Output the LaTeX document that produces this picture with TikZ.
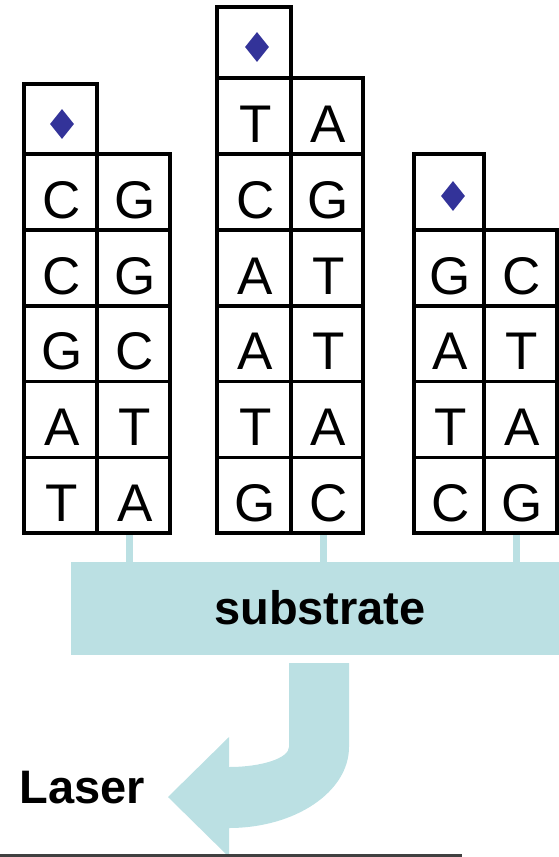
\documentclass[tikz,border=0pt]{standalone}
\usepackage{fontspec}
\setmainfont{Liberation Sans}
\usetikzlibrary{shapes.geometric,backgrounds}
\definecolor{lblue}{RGB}{187,224,227}
\definecolor{dblue}{RGB}{51,51,153}
\tikzset{
  cellbox/.style={draw=black, line width=3.5pt, inner sep=0pt, text height=52pt, text depth=0pt,
    font=\fontsize{53}{53}\selectfont},
  gem/.style={diamond, fill=dblue, inner sep=0pt, minimum width=24pt, minimum height=30pt},
  stub/.style={draw=lblue, line width=7pt},
  band/.style={fill=lblue, inner sep=0pt},
  bigbold/.style={inner sep=0pt, font=\fontsize{47}{47}\selectfont\bfseries}
}
% \dnacell{name}{x1}{y1}{x2}{y2}{text}
\newcommand\dnacell[6]{%
  \node[cellbox, minimum width={(#4-#2)*1pt}, minimum height={(#5-#3)*1pt}] (#1) at ({(#2+#4)/2},{(#3+#5)/2}) {\hspace*{3pt}#6};}
\begin{document}
\begin{tikzpicture}[x=1pt, y=-1pt]
\useasboundingbox (0,0) rectangle (559,857);
\clip (0,0) rectangle (559,857);
% ---------- left stack ----------
\dnacell{La0}{24}{84}{97}{154}{}
\dnacell{La1}{24}{154}{97}{230}{C}
\dnacell{Lb1}{97}{154}{170}{230}{G}
\dnacell{La2}{24}{230}{97}{306}{C}
\dnacell{Lb2}{97}{230}{170}{306}{G}
\dnacell{La3}{24}{306}{97}{381.5}{G}
\dnacell{Lb3}{97}{306}{170}{381.5}{C}
\dnacell{La4}{24}{381.5}{97}{457.5}{A}
\dnacell{Lb4}{97}{381.5}{170}{457.5}{T}
\dnacell{La5}{24}{457.5}{97}{533}{T}
\dnacell{Lb5}{97}{457.5}{170}{533}{A}
\node[gem] (Lgem) at (62,124) {};
% ---------- middle stack ----------
\dnacell{Ma0}{217}{7}{291}{78}{}
\dnacell{Ma1}{217}{78}{291}{154}{T}
\dnacell{Mb1}{291}{78}{363}{154}{A}
\dnacell{Ma2}{217}{154}{291}{230}{C}
\dnacell{Mb2}{291}{154}{363}{230}{G}
\dnacell{Ma3}{217}{230}{291}{306}{A}
\dnacell{Mb3}{291}{230}{363}{306}{T}
\dnacell{Ma4}{217}{306}{291}{381.5}{A}
\dnacell{Mb4}{291}{306}{363}{381.5}{T}
\dnacell{Ma5}{217}{381.5}{291}{457.5}{T}
\dnacell{Mb5}{291}{381.5}{363}{457.5}{A}
\dnacell{Ma6}{217}{457.5}{291}{533}{G}
\dnacell{Mb6}{291}{457.5}{363}{533}{C}
\node[gem] (Mgem) at (257,47) {};
% ---------- right stack ----------
\dnacell{Ra0}{414}{154}{484}{230}{}
\dnacell{Ra1}{414}{230}{484}{306}{G}
\dnacell{Rb1}{484}{230}{557}{306}{C}
\dnacell{Ra2}{414}{306}{484}{381.5}{A}
\dnacell{Rb2}{484}{306}{557}{381.5}{T}
\dnacell{Ra3}{414}{381.5}{484}{457.5}{T}
\dnacell{Rb3}{484}{381.5}{557}{457.5}{A}
\dnacell{Ra4}{414}{457.5}{484}{533}{C}
\dnacell{Rb4}{484}{457.5}{557}{533}{G}
\node[gem] (Rgem) at (453,196) {};
% ---------- substrate ----------
\node[band, minimum width=488pt, minimum height=93pt] (sub) at (315,608.5) {};
\node[bigbold, anchor=base] (subtext) at (320,624) {substrate};
\begin{scope}[on background layer]
  \draw[stub] ([xshift=-4pt]Lb5.south) -- ([xshift=-4pt]Lb5.south |- sub.north);
  \draw[stub] ([xshift=-4pt]Mb6.south) -- ([xshift=-4pt]Mb6.south |- sub.north);
  \draw[stub] ([xshift=-4pt]Rb4.south) -- ([xshift=-4pt]Rb4.south |- sub.north);
\end{scope}
% ---------- curved arrow ----------
\fill[lblue] (289,663) -- (349,663) -- (349,747)
  .. controls (349,791.7) and (295.3,828) .. (229,828)
  -- (229,857) -- (168,797) -- (229,737) -- (229,767)
  .. controls (262.1,767) and (289,758) .. (289,747) -- cycle;
\node[bigbold, anchor=base west] (laser) at (19.5,803) {Laser};
\draw[line width=3pt, black!75] (0,855.5) -- (462,855.5);
\end{tikzpicture}
\end{document}
